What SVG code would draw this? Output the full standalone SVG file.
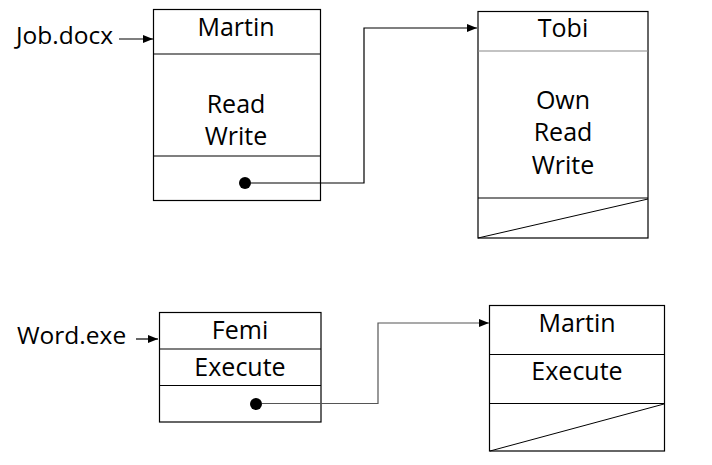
<svg xmlns="http://www.w3.org/2000/svg" width="712" height="465" viewBox="0 0 712 465">
<style>
.box{fill:#fff;stroke:#000;stroke-width:1.2}
.div{stroke:#000;stroke-width:1.2}
.t{font-family:"Open Sans","Noto Sans",sans-serif;font-size:25px;fill:#000;text-anchor:middle}
.lbl{font-family:"Open Sans","Noto Sans",sans-serif;font-size:24.5px;fill:#000}
.c{fill:none;stroke:#000;stroke-width:1.2}
.cg{fill:none;stroke:#555;stroke-width:1.2}
</style>
<defs>
<marker id="ah" markerWidth="10" markerHeight="8" refX="10" refY="4" orient="auto" markerUnits="userSpaceOnUse">
<path d="M0,0 L10,4 L0,8 Z" fill="#000"/>
</marker>
</defs>
<rect width="712" height="465" fill="#fff"/>
<g id="job-label"><text class="lbl" x="16" y="44">Job.docx</text></g>
<g id="word-label"><text class="lbl" x="17" y="344">Word.exe</text></g>
<g id="martin1">
<rect class="box" x="153.5" y="9.5" width="167" height="191"/>
<line class="div" x1="153.5" y1="54" x2="320.5" y2="54"/>
<line class="div" x1="153.5" y1="156" x2="320.5" y2="156"/>
<text class="t" x="236" y="36">Martin</text>
<text class="t" x="236" y="113">Read</text>
<text class="t" x="236" y="145">Write</text>
</g>
<g id="tobi">
<rect class="box" x="478" y="11.5" width="170" height="226.5"/>
<line x1="478" y1="51" x2="648" y2="51" stroke="#888" stroke-width="1.2"/>
<line class="div" x1="478" y1="198" x2="648" y2="198"/>
<line x1="478" y1="238" x2="648" y2="199" stroke="#000" stroke-width="1"/>
<text class="t" x="563" y="37">Tobi</text>
<text class="t" x="563" y="109">Own</text>
<text class="t" x="563" y="141">Read</text>
<text class="t" x="563" y="174">Write</text>
</g>
<g id="femi">
<rect class="box" x="159.5" y="312.5" width="161.5" height="109.5"/>
<line class="div" x1="159.5" y1="349" x2="321" y2="349"/>
<line class="div" x1="159.5" y1="385.5" x2="321" y2="385.5"/>
<text class="t" x="240" y="339">Femi</text>
<text class="t" x="240" y="376">Execute</text>
</g>
<g id="martin2">
<rect class="box" x="489.5" y="305.5" width="175" height="145.5"/>
<line class="div" x1="489.5" y1="354.5" x2="664.5" y2="354.5"/>
<line class="div" x1="489.5" y1="403.5" x2="664.5" y2="403.5"/>
<line x1="490" y1="451" x2="664" y2="404" stroke="#000" stroke-width="1"/>
<text class="t" x="577" y="332">Martin</text>
<text class="t" x="577" y="380">Execute</text>
</g>
<g id="connectors">
<line class="c" x1="119" y1="39" x2="153" y2="39" marker-end="url(#ah)"/>
<line class="c" x1="136" y1="339" x2="158" y2="339" marker-end="url(#ah)"/>
<circle cx="245" cy="183" r="6" fill="#000"/>
<polyline class="c" points="251,183 364,183 364,28 477,28" marker-end="url(#ah)"/>
<circle cx="256" cy="404" r="6" fill="#000"/>
<polyline class="cg" points="262,403.5 378,403.5 378,323 489,323" marker-end="url(#ah)"/>
</g>
</svg>
